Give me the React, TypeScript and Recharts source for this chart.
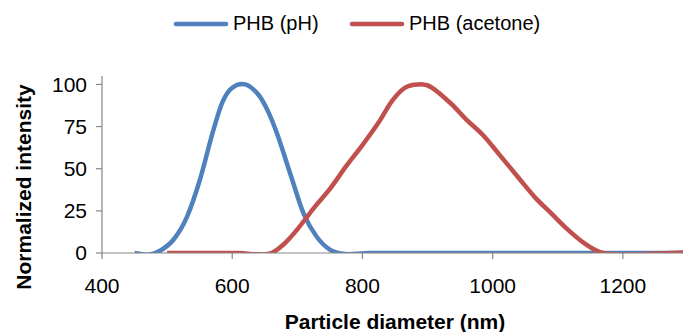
import React from 'react';
import { LineChart, Line, XAxis, YAxis, Legend } from 'recharts';

const phDiameter = [450, 472, 490, 510, 530, 550, 570, 585, 600, 620, 640, 655, 670, 690, 710, 730, 750, 770, 790, 810, 850, 1000, 1150, 1300];
const phIntensity = [0, -1, 1.5, 8, 21, 43, 71.5, 89.5, 98, 100, 94, 84, 69.5, 46, 23, 9.5, 2, -0.5, -0.5, 0, 0, 0, 0, 0];

const acetoneDiameter = [500, 560, 610, 635, 660, 680, 700, 725, 750, 775, 800, 825, 845, 865, 885, 905, 935, 960, 985, 1010, 1040, 1065, 1090, 1115, 1140, 1165, 1195, 1240, 1300];
const acetoneIntensity = [0, 0, 0, -0.8, 0, 5.5, 14, 26.5, 38, 51.5, 64, 77.5, 90, 98, 100, 98.5, 89, 79, 70, 58.5, 44.5, 33, 23.5, 14, 6, 0.5, -1, -0.5, 0.5];

const xTicks = [400, 600, 800, 1000, 1200];
const yTicks = [0, 25, 50, 75, 100];

const seriesNames = ['PHB (pH)', 'PHB (acetone)'];
const seriesColors = ['#4F81BD', '#C0504D'];

const phData = phDiameter.map((d, i) => ({ d, v: phIntensity[i] }));
const acetoneData = acetoneDiameter.map((d, i) => ({ d, v: acetoneIntensity[i] }));

const FONT = "'Liberation Sans', Arial, sans-serif";

// Excel-style smoothed line (uniform Catmull-Rom as cubic Bezier)
const excelSmooth: any = (context: any) => {
  let pts: number[][] = [];
  return {
    areaStart() {},
    areaEnd() {},
    lineStart() {
      pts = [];
    },
    lineEnd() {
      if (!pts.length) return;
      context.moveTo(pts[0][0], pts[0][1]);
      for (let i = 0; i < pts.length - 1; i++) {
        const p0 = pts[i - 1] || pts[i];
        const p1 = pts[i];
        const p2 = pts[i + 1];
        const p3 = pts[i + 2] || p2;
        context.bezierCurveTo(
          p1[0] + (p2[0] - p0[0]) / 6,
          p1[1] + (p2[1] - p0[1]) / 6,
          p2[0] - (p3[0] - p1[0]) / 6,
          p2[1] - (p3[1] - p1[1]) / 6,
          p2[0],
          p2[1]
        );
      }
    },
    point(x: number, y: number) {
      pts.push([+x, +y]);
    },
  };
};

const legendLayout = [
  { line: 174, text: 233 },
  { line: 350, text: 409 },
];

const CustomLegend = () => (
  <div style={{ position: 'relative', width: 683, height: 46, fontFamily: FONT }}>
    {seriesNames.map((name, i) => (
      <React.Fragment key={name}>
        <svg
          width={58}
          height={10}
          style={{ position: 'absolute', left: legendLayout[i].line - 2, top: 18.5 }}
        >
          <line x1={4} y1={5} x2={54} y2={5} stroke={seriesColors[i]} strokeWidth={4.5} strokeLinecap="round" />
        </svg>
        <span
          style={{
            position: 'absolute',
            left: legendLayout[i].text,
            top: 11,
            fontSize: 20,
            lineHeight: '24px',
            color: '#000',
            whiteSpace: 'nowrap',
          }}
        >
          {name}
        </span>
      </React.Fragment>
    ))}
  </div>
);

const YTitle = () => (
  <text
    x={31}
    y={187}
    transform="rotate(-90 31 187)"
    textAnchor="middle"
    fontFamily={FONT}
    fontWeight="bold"
    fontSize={21}
    fill="#000"
  >
    Normalized intensity
  </text>
);

export default function App() {
  return (
    <div style={{ position: 'absolute', left: 0, top: 0, width: 683, height: 332, overflow: 'hidden', background: '#fff', fontFamily: FONT }}>
      <LineChart width={688} height={332} margin={{ top: 76, right: 0, bottom: 0, left: 0 }}>
        <XAxis
          dataKey="d"
          type="number"
          domain={[400, 1300]}
          ticks={xTicks}
          allowDataOverflow
          height={79}
          axisLine={{ stroke: '#868686', strokeWidth: 1.2 }}
          tickLine={{ stroke: '#868686', strokeWidth: 1.2 }}
          tickSize={6}
          tickMargin={19}
          tick={{ fill: '#000', fontSize: 21, fontFamily: FONT }}
          label={{ value: 'Particle diameter (nm)', position: 'insideBottom', offset: 3, fill: '#000', fontSize: 21, fontWeight: 'bold', fontFamily: FONT }}
        />
        <YAxis
          type="number"
          domain={[0, 105]}
          ticks={yTicks}
          allowDataOverflow
          width={102}
          axisLine={{ stroke: '#868686', strokeWidth: 1.2 }}
          tickLine={{ stroke: '#868686', strokeWidth: 1.2 }}
          tickSize={6}
          tickMargin={9}
          tick={{ fill: '#000', fontSize: 21, fontFamily: FONT }}
          label={{ content: () => <YTitle /> }}
        />
        <Legend
          verticalAlign="middle"
          align="center"
          layout="horizontal"
          wrapperStyle={{ top: 0, left: 0, width: 683 }}
          content={() => <CustomLegend />}
        />
        <Line
          data={phData}
          dataKey="v"
          name={seriesNames[0]}
          type={excelSmooth}
          stroke={seriesColors[0]}
          strokeWidth={4.5}
          dot={false}
          activeDot={false}
          isAnimationActive={false}
        />
        <Line
          data={acetoneData}
          dataKey="v"
          name={seriesNames[1]}
          type={excelSmooth}
          stroke={seriesColors[1]}
          strokeWidth={4.5}
          dot={false}
          activeDot={false}
          isAnimationActive={false}
        />
      </LineChart>
    </div>
  );
}
